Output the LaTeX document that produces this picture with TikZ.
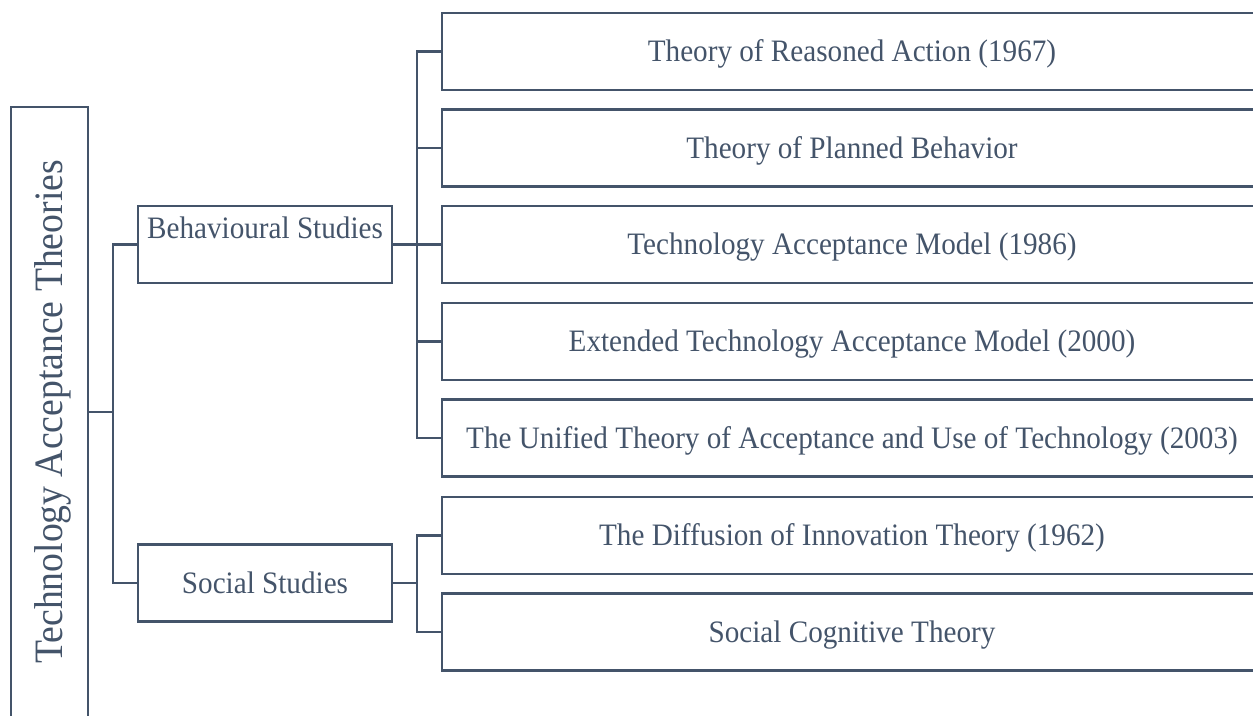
\documentclass[tikz,border=0pt]{standalone}
\usepackage{fontspec}
\setmainfont{Liberation Serif}[FakeStretch=0.935]
\definecolor{slate}{HTML}{44546A}
\begin{document}
\begin{tikzpicture}[x=1pt,y=-1pt,
  every node/.style={draw=slate, line width=2.2pt, text=slate, inner sep=0pt, rectangle},
  conn/.style={draw=slate, line width=2.2pt},
  txt/.style={font=\fontsize{31.2}{36}\selectfont},
  % caps centred vertically in a 77pt tall box
  mid/.style={txt, text height=48.85pt, text depth=28.15pt},
  leaf/.style={mid, minimum width=820pt, minimum height=77pt},
  branch/.style={minimum width=254pt, minimum height=77pt}]
\useasboundingbox (0,0) rectangle (1253,715);
\clip (0,0) rectangle (1253,715);

% root (rotated: its south anchor faces right)
\node[rotate=90, minimum width=610pt, minimum height=77pt,
      font=\fontsize{40.3}{46}\selectfont,
      text height=51.85pt, text depth=25.15pt] (root) at (49.5,412)
      {Technology Acceptance Theories};

% branches
\node[branch, txt, text height=32.3pt, text depth=44.7pt] (beh) at (265,244.5) {Behavioural Studies};
\node[branch, mid] (soc) at (265,583) {Social Studies};

% leaves
\node[leaf] (t1) at (852,51.5)  {Theory of Reasoned Action (1967)};
\node[leaf] (t2) at (852,148)   {Theory of Planned Behavior};
\node[leaf] (t3) at (852,244.5) {Technology Acceptance Model (1986)};
\node[leaf] (t4) at (852,341.5) {Extended Technology Acceptance Model (2000)};
\node[leaf] (t5) at (852,438)   {The Unified Theory of Acceptance and Use of Technology (2003)};
\node[leaf] (t6) at (852,535.5) {The Diffusion of Innovation Theory (1962)};
\node[leaf] (t7) at (852,632)   {Social Cognitive Theory};

% junctions
\coordinate (j0) at (113,412);
\coordinate (j1) at (417,244.5);
\coordinate (j2) at (417,583);

% connectors
\draw[conn] (root.south) -- (j0);
\draw[conn] (beh.west) -| (j0) |- (soc.west);
\draw[conn] (beh.east) -- (t3.west);
\draw[conn] (t1.west) -| (j1) |- (t5.west);
\draw[conn] (j1 |- t2.west) -- (t2.west);
\draw[conn] (j1 |- t4.west) -- (t4.west);
\draw[conn] (soc.east) -- (j2);
\draw[conn] (t6.west) -| (j2) |- (t7.west);
\end{tikzpicture}
\end{document}
